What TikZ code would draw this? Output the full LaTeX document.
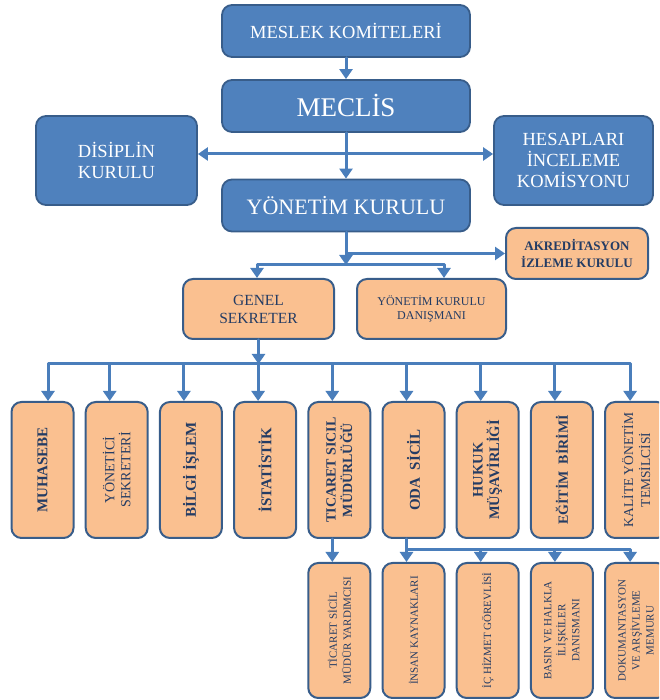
\documentclass[tikz,border=0pt]{standalone}
\usepackage{fontspec}
\setmainfont{Liberation Serif}
\usepackage{tikz}
\usetikzlibrary{arrows.meta}
\definecolor{kutumavi}{RGB}{79,129,189}
\definecolor{kenarmavi}{RGB}{56,93,138}
\definecolor{kututuruncu}{RGB}{250,192,144}
\definecolor{okmavi}{RGB}{74,126,187}
\definecolor{yazimavi}{RGB}{36,60,100}
\tikzset{
  mavikutu/.style={draw=kenarmavi,fill=kutumavi,line width=1.8pt,rounded corners=10pt,text=white,align=center,inner sep=0pt},
  turuncukutu/.style={draw=kenarmavi,fill=kututuruncu,line width=2pt,rounded corners=10pt,text=yazimavi,align=center,inner sep=0pt},
  dikkutu/.style={turuncukutu,rotate=90,minimum width=136pt,minimum height=62pt},
  altkutu/.style={turuncukutu,rotate=90,minimum width=135pt,minimum height=62pt},
  ok/.style={color=okmavi,line width=3pt,->}
}

\begin{document}
\begin{tikzpicture}[line cap=round,line join=round,>={Triangle[width=13pt,length=10pt]},x=1pt,y=1pt]
        \useasboundingbox (0,0) rectangle (659,700);
        \clip(0,0) rectangle (659,700);
        \node[mavikutu,minimum width=248pt,minimum height=52pt,font=\fontsize{18.5}{21}\selectfont] (mk) at (346,669) {MESLEK KOMİTELERİ};
        \node[mavikutu,minimum width=248pt,minimum height=52pt,font=\fontsize{27}{30}\selectfont] (mec) at (346,594) {MECLİS};
        \node[mavikutu,minimum width=161pt,minimum height=89pt,font=\fontsize{18.5}{21}\selectfont] (dis) at (116.5,539.5) {DİSİPLİN\\KURULU};
        \node[mavikutu,minimum width=159pt,minimum height=89pt,font=\fontsize{18.5}{21}\selectfont] (hes) at (573.5,539.5) {HESAPLARI\\İNCELEME\\KOMİSYONU};
        \node[mavikutu,minimum width=248pt,minimum height=52pt,font=\fontsize{22}{25}\selectfont] (yk) at (346,494.5) {YÖNETİM KURULU};
        \node[turuncukutu,minimum width=142pt,minimum height=51pt,font=\bfseries\fontsize{13}{17}\selectfont] (ak) at (577,446.5) {AKREDİTASYON\\İZLEME KURULU};
        \node[turuncukutu,minimum width=151pt,minimum height=60pt,font=\fontsize{15.5}{18}\selectfont] (gs) at (258.5,391) {GENEL\\SEKRETER};
        \node[turuncukutu,minimum width=149pt,minimum height=60pt,font=\fontsize{12}{14.5}\selectfont] (ykd) at (431.5,391) {YÖNETİM KURULU\\DANIŞMANI};
        \node[dikkutu,font=\bfseries\fontsize{15}{17}\selectfont] (muh) at (42.5,230) {MUHASEBE};
        \node[dikkutu,font=\fontsize{14}{16}\selectfont] (ybs) at (116.7,230) {YÖNETİCİ\\SEKRETERİ};
        \node[dikkutu,font=\bfseries\fontsize{15}{17}\selectfont] (bis) at (190.9,230) {BİLGİ İŞLEM};
        \node[dikkutu,font=\bfseries\fontsize{15}{17}\selectfont] (ist) at (265.1,230) {İSTATİSTİK};
        \node[dikkutu,font=\bfseries\fontsize{14}{16.5}\selectfont] (tsc) at (339.3,230) {TICARET SICIL\\MÜDÜRLÜĞÜ};
        \node[dikkutu,font=\bfseries\fontsize{15}{17}\selectfont] (oda) at (413.5,230) {ODA\ \ SİCİL};
        \node[dikkutu,font=\bfseries\fontsize{14.5}{16.5}\selectfont] (huk) at (487.7,230) {HUKUK\\MÜŞAVİRLİĞİ};
        \node[dikkutu,font=\bfseries\fontsize{14}{17}\selectfont] (egt) at (561.9,230) {EĞİTİM\ \ BİRİMİ};
        \node[dikkutu,font=\fontsize{13.5}{17}\selectfont] (kyt) at (636.1,230) {KALİTE YÖNETİM\\TEMSİLCİSİ};
        \node[altkutu,font=\fontsize{11}{14}\selectfont] (tsm) at (339.3,69.5) {TİCARET SİCİL\\MÜDÜR YARDIMCISI};
        \node[altkutu,font=\fontsize{11}{14}\selectfont] (ik) at (413.5,69.5) {İNSAN KAYNAKLARI};
        \node[altkutu,font=\fontsize{11}{14}\selectfont] (ihg) at (487.7,69.5) {İÇ HİZMET GÖREVLİSİ};
        \node[altkutu,font=\fontsize{11}{14}\selectfont] (bhi) at (561.9,69.5) {BASIN VE HALKLA\\İLİŞKİLER\\DANISMANI};
        \node[altkutu,font=\fontsize{11}{14}\selectfont] (dam) at (636.1,69.5) {DOKUMANTASYON\\VE ARŞİVLEME\\MEMURU};
        \coordinate (ayrim) at (346,435);
        \coordinate (hat) at (258.5,336);
        \coordinate (althat) at (406.5,150);
        \draw[ok] (mk) -- (mec);
        \draw[ok] (mec) -- (yk);
        \draw[ok,<->] ([yshift=6.5pt]dis.east) -- ([yshift=6.5pt]hes.west);
        \draw[ok] (yk.south) |- (ak.west);
        \draw[ok] (yk.south) -- (ayrim);
        \draw[ok] (ayrim) -| ([xshift=-1.5pt]gs.north);
        \draw[ok] (ayrim) -| ([xshift=12.5pt]ykd.north);
        \draw[ok] (gs.south) -- (hat);
        \draw[ok] (hat) -| ([xshift=5.5pt]muh.east);
        \draw[ok] (hat) -| ([xshift=-6pt]kyt.east);
        \foreach \n in {ybs,bis,ist,tsc,oda,huk,egt}
            \draw[ok] ([xshift=-7pt]\n.east |- hat) -- ([xshift=-7pt]\n.east);
        \draw[ok] ([xshift=-7pt]tsc.west) -- ([xshift=-7pt]tsm.east);
        \draw[ok] ([xshift=-7pt]oda.west) -- ([xshift=-7pt]ik.east);
        \draw[ok] (althat) -| ([xshift=-6pt]dam.east);
        \foreach \n in {ihg,bhi}
            \draw[ok] ([xshift=-7pt]\n.east |- althat) -- ([xshift=-7pt]\n.east);
    \end{tikzpicture}
\end{document}
